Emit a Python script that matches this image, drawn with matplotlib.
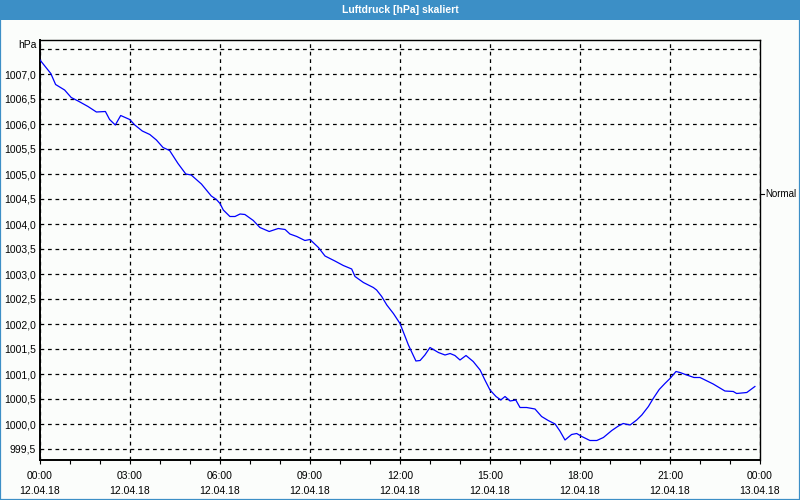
import numpy as np
import matplotlib
matplotlib.use("Agg")
import matplotlib.pyplot as plt
from matplotlib.patches import Rectangle
from matplotlib.ticker import MultipleLocator, FuncFormatter

# Daten (Stunden seit 12.04.18 00:00, Luftdruck in hPa)
hours = [0.00, 0.36, 0.52, 0.82, 1.04, 1.27, 1.60, 1.88, 2.18, 2.32, 2.51, 2.69,
         2.99, 3.16, 3.41, 3.66, 3.88, 4.10, 4.32, 4.60, 4.86, 5.04, 5.38, 5.71,
         5.88, 6.00, 6.11, 6.33, 6.50, 6.67, 6.83, 7.11, 7.33, 7.64, 7.94, 8.17,
         8.33, 8.56, 8.83, 9.00, 9.28, 9.50, 9.83, 10.11, 10.39, 10.50, 10.78,
         11.11, 11.22, 11.39, 11.56, 11.78, 12.00, 12.17, 12.28, 12.53, 12.67,
         12.83, 13.00, 13.28, 13.50, 13.67, 13.83, 14.00, 14.20, 14.44, 14.67,
         14.83, 15.00, 15.20, 15.36, 15.50, 15.67, 15.86, 16.00, 16.22, 16.50,
         16.72, 16.94, 17.17, 17.33, 17.50, 17.72, 17.89, 18.06, 18.33, 18.56,
         18.78, 19.06, 19.28, 19.44, 19.67, 19.89, 20.06, 20.28, 20.44, 20.64,
         20.83, 21.00, 21.20, 21.33, 21.56, 21.80, 22.00, 22.17, 22.44, 22.83,
         23.11, 23.22, 23.56, 23.83]
druck = [1007.28, 1007.01, 1006.79, 1006.68, 1006.53, 1006.46, 1006.35, 1006.24,
         1006.25, 1006.09, 1005.98, 1006.17, 1006.09, 1005.98, 1005.86, 1005.79,
         1005.68, 1005.53, 1005.47, 1005.21, 1005.00, 1004.98, 1004.80, 1004.56,
         1004.49, 1004.41, 1004.28, 1004.15, 1004.15, 1004.20, 1004.19, 1004.07,
         1003.93, 1003.85, 1003.91, 1003.89, 1003.80, 1003.75, 1003.67, 1003.69,
         1003.53, 1003.36, 1003.26, 1003.17, 1003.10, 1002.95, 1002.83, 1002.73,
         1002.68, 1002.55, 1002.38, 1002.21, 1002.01, 1001.75, 1001.58, 1001.26,
         1001.27, 1001.38, 1001.53, 1001.43, 1001.38, 1001.41, 1001.37, 1001.28,
         1001.37, 1001.25, 1001.08, 1000.88, 1000.68, 1000.55, 1000.48, 1000.55,
         1000.46, 1000.48, 1000.33, 1000.33, 1000.30, 1000.15, 1000.07, 1000.00,
         999.86, 999.68, 999.79, 999.81, 999.75, 999.67, 999.67, 999.73, 999.87,
         999.96, 1000.01, 999.98, 1000.08, 1000.18, 1000.35, 1000.51, 1000.69,
         1000.81, 1000.91, 1001.05, 1001.03, 1000.98, 1000.93, 1000.93, 1000.88,
         1000.80, 1000.66, 1000.65, 1000.61, 1000.63, 1000.75]

xtick_pos = [0, 3, 6, 9, 12, 15, 18, 21, 24]
xtick_labels = ["00:00\n12.04.18", "03:00\n12.04.18", "06:00\n12.04.18",
                "09:00\n12.04.18", "12:00\n12.04.18", "15:00\n12.04.18",
                "18:00\n12.04.18", "21:00\n12.04.18", "00:00\n13.04.18"]

titel = "Luftdruck [hPa] skaliert"
blau = "#3c8fc6"

plt.rcParams["font.family"] = ["Liberation Sans", "DejaVu Sans"]

fig = plt.figure(figsize=(8, 5), dpi=100, facecolor="#fbfdfb")

# Fensterrahmen + Titelleiste
fig.patches.append(Rectangle((0, 0), 1, 1, transform=fig.transFigure,
                             facecolor="none", edgecolor=blau, linewidth=1.6, zorder=0))
fig.patches.append(Rectangle((0, 1 - 20 / 500), 1, 20 / 500, transform=fig.transFigure,
                             facecolor=blau, edgecolor="none", zorder=1))
fig.text(0.5, 1 - 10 / 500, titel, color="white", fontsize=7.5, fontweight="bold",
         ha="center", va="center")

ax = fig.add_axes([40 / 800, 40 / 500, 720 / 800, 420 / 500])
ax.set_facecolor("#fbfdfb")
ax.plot(hours, druck, color="#0000ff", linewidth=0.9, zorder=3)

ax.set_xlim(0, 24)
ax.set_ylim(999.28, 1007.68)

ax.set_xticks(xtick_pos)
ax.set_xticklabels(xtick_labels, fontsize=7.5, linespacing=1.6)
ax.xaxis.set_minor_locator(MultipleLocator(1))
ax.tick_params(axis="x", which="both", length=3, width=0.8, direction="out", pad=5)

ax.yaxis.set_major_locator(MultipleLocator(0.5))
ax.yaxis.set_major_formatter(FuncFormatter(
    lambda v, p: "" if v > 1007.2 else f"{v:.1f}".replace(".", ",")))
ax.tick_params(axis="y", length=0, labelsize=7.5, pad=3)

ax.grid(True, color="black", linestyle=(0, (3, 3)), linewidth=0.9)
for s in ax.spines.values():
    s.set_color("black")
    s.set_linewidth(1.0)
ax.spines["left"].set_linewidth(1.4)
ax.spines["bottom"].set_linewidth(1.4)

fig.text(37 / 800, 1 - 45 / 500, "hPa", fontsize=7.5, ha="right", va="center")

yn = (460 - 194) / 420
ax.plot([1.0, 1.005], [yn, yn], color="black", linewidth=0.8,
        transform=ax.transAxes, clip_on=False)
ax.text(1.007, yn, "Normal", fontsize=7, ha="left", va="center", transform=ax.transAxes)

fig.savefig("out.png", dpi=100, facecolor=fig.get_facecolor())
